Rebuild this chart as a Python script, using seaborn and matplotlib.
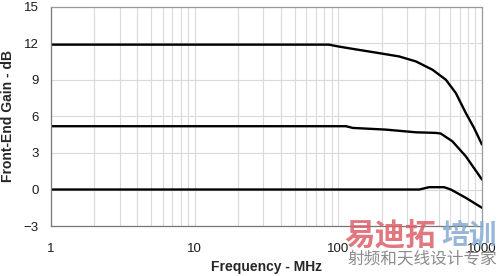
import numpy as np
import pandas as pd
import matplotlib
matplotlib.use("Agg")
import matplotlib.pyplot as plt
import seaborn as sns
from matplotlib.ticker import FixedLocator, FixedFormatter, LogLocator, NullFormatter

# Data
freq_high = [1, 86, 100, 119, 193, 265, 347, 452, 560, 657, 771, 880, 1000]
gain_high = [11.9, 11.9, 11.75, 11.6, 11.2, 10.93, 10.52, 9.84, 9.02, 7.93, 6.29, 5.06, 3.69]

freq_mid = [1, 113, 126, 214, 347, 477, 516, 622, 771, 1000]
gain_mid = [5.2, 5.2, 5.06, 4.92, 4.7, 4.65, 4.6, 3.96, 2.73, 0.82]

freq_low = [1, 366, 428, 545, 607, 771, 1000]
gain_low = [0.0, 0.0, 0.19, 0.19, 0.0, -0.68, -1.5]

x_ticks = [1, 10, 100, 1000]
x_ticklabels = ["1", "10", "100", "1000"]
y_ticks = [-3, 0, 3, 6, 9, 12, 15]

df = pd.concat([
    pd.DataFrame({"freq": freq_high, "gain": gain_high, "series": "high"}),
    pd.DataFrame({"freq": freq_mid, "gain": gain_mid, "series": "mid"}),
    pd.DataFrame({"freq": freq_low, "gain": gain_low, "series": "low"}),
])

sns.set_style("white")
plt.rcParams['font.family'] = ['Liberation Sans', 'DejaVu Sans']

fig = plt.figure(figsize=(5.0, 2.76), dpi=100)
ax = fig.add_axes([0.102, 0.181, 0.862, 0.794])

sns.lineplot(data=df, x="freq", y="gain", units="series", estimator=None,
             color="black", linewidth=1.7, ax=ax, sort=False)

ax.set_xscale("log")
ax.set_xlim(1, 1000)
ax.set_ylim(-3, 15)
ax.xaxis.set_major_locator(FixedLocator(x_ticks))
ax.xaxis.set_major_formatter(FixedFormatter(x_ticklabels))
ax.xaxis.set_minor_locator(LogLocator(base=10, subs=np.arange(2, 10)))
ax.xaxis.set_minor_formatter(NullFormatter())
ax.set_yticks(y_ticks)

ax.grid(True, which="both", axis="x", color="#dadada", linewidth=0.8)
ax.grid(True, which="major", axis="y", color="#dadada", linewidth=0.8)

for s in ax.spines.values():
    s.set_color("#9a9a9a")
    s.set_linewidth(0.9)
ax.spines["left"].set_color("#777777")
ax.spines["bottom"].set_color("#777777")

ax.tick_params(axis="both", which="major", length=2, width=0.8, color="#777777",
               labelsize=9.5, labelcolor="#1a1a1a")
ax.tick_params(axis="x", which="major", pad=10)
ax.tick_params(axis="y", which="major", pad=7)
ax.tick_params(axis="x", which="minor", length=0)

ax.set_xlabel("Frequency - MHz", fontsize=10, fontweight="bold", labelpad=4)
ax.set_ylabel("Front-End Gain - dB", fontsize=10, fontweight="bold", labelpad=6)

# watermark
cjk = ["Noto Sans CJK SC", "DejaVu Sans"]
fig.text(0.688, 0.145, "易迪拓", fontsize=22, fontweight="bold", color="#dc5f69", alpha=0.85,
         family=cjk, ha="left", va="center")
fig.text(0.994, 0.145, "培训", fontsize=20, fontweight="bold", color="#86abd2", alpha=0.85,
         family=cjk, ha="right", va="center")
fig.text(0.994, 0.063, "射频和天线设计专家", fontsize=12, color="#8c8c8c",
         family=cjk, ha="right", va="center")

fig.savefig("out.png", dpi=100)
